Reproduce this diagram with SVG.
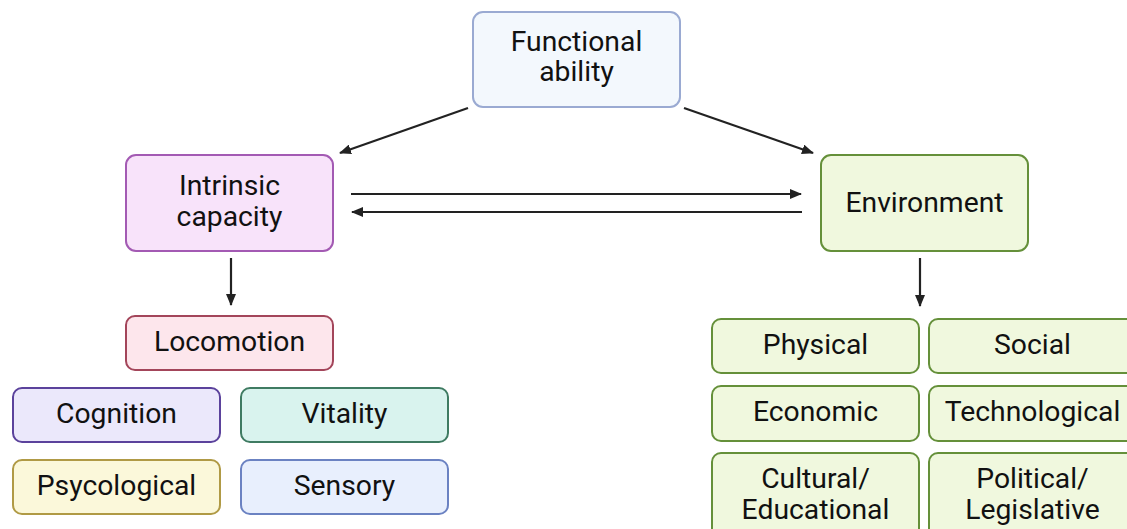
<svg xmlns="http://www.w3.org/2000/svg" width="1127" height="529" viewBox="0 0 1127 529">
<style>
text{font-family:Roboto,"Liberation Sans",sans-serif;font-size:28.3px;fill:#111;text-anchor:middle}
rect{stroke-width:2}
.c line{stroke:#222;stroke-width:2.2;fill:none}
.env rect{fill:#f0f8de;stroke:#65903a}
</style>
<defs>
<marker id="ah" viewBox="0 0 12 10" refX="11" refY="5" markerWidth="12" markerHeight="10" markerUnits="userSpaceOnUse" orient="auto">
<path d="M0,0 L12,5 L0,10 z" fill="#222"/>
</marker>
</defs>
<rect width="1127" height="529" fill="#fff"/>
<g id="functional">
<rect x="473" y="12" width="207" height="95" rx="10" fill="#f3f8fd" stroke="#9aaad2"/>
<text x="576.5" y="51">Functional</text>
<text x="576.5" y="81">ability</text>
</g>
<g id="intrinsic">
<rect x="126" y="155" width="207" height="96" rx="10" fill="#f8e3fa" stroke="#a35ab3"/>
<text x="229.5" y="195">Intrinsic</text>
<text x="229.5" y="226">capacity</text>
</g>
<g id="environment" class="env">
<rect x="821" y="155" width="207" height="96" rx="10"/>
<text x="924.5" y="212">Environment</text>
</g>
<g id="locomotion">
<rect x="126" y="316" width="207" height="54" rx="9" fill="#fde6ec" stroke="#a3455a"/>
<text x="229.5" y="351">Locomotion</text>
</g>
<g id="cognition">
<rect x="13" y="388" width="207" height="54" rx="9" fill="#ebe8fb" stroke="#5b429c"/>
<text x="116.5" y="423">Cognition</text>
</g>
<g id="vitality">
<rect x="241" y="388" width="207" height="54" rx="9" fill="#d9f3ee" stroke="#3f7b62"/>
<text x="344.5" y="423">Vitality</text>
</g>
<g id="psycological">
<rect x="13" y="460" width="207" height="54" rx="9" fill="#fbf8da" stroke="#b09a45"/>
<text x="116.5" y="495">Psycological</text>
</g>
<g id="sensory">
<rect x="241" y="460" width="207" height="54" rx="9" fill="#e8effd" stroke="#6b82c2"/>
<text x="344.5" y="495">Sensory</text>
</g>
<g id="physical" class="env">
<rect x="712" y="319" width="207" height="54" rx="9"/>
<text x="815.5" y="354">Physical</text>
</g>
<g id="social" class="env">
<rect x="929" y="319" width="207" height="54" rx="9"/>
<text x="1032.5" y="354">Social</text>
</g>
<g id="economic" class="env">
<rect x="712" y="386" width="207" height="55" rx="9"/>
<text x="815.5" y="421">Economic</text>
</g>
<g id="technological" class="env">
<rect x="929" y="386" width="207" height="55" rx="9"/>
<text x="1032.5" y="421">Technological</text>
</g>
<g id="cultural" class="env">
<rect x="712" y="453" width="207" height="95" rx="9"/>
<text x="815.5" y="488">Cultural/</text>
<text x="815.5" y="519">Educational</text>
</g>
<g id="political" class="env">
<rect x="929" y="453" width="207" height="95" rx="9"/>
<text x="1032.5" y="488">Political/</text>
<text x="1032.5" y="519">Legislative</text>
</g>
<g id="connectors" class="c">
<line x1="468" y1="108" x2="340" y2="153" marker-end="url(#ah)"/>
<line x1="684" y1="108" x2="813" y2="153" marker-end="url(#ah)"/>
<line x1="351" y1="194" x2="801" y2="194" marker-end="url(#ah)"/>
<line x1="802" y1="212" x2="352" y2="212" marker-end="url(#ah)"/>
<line x1="231" y1="258" x2="231" y2="305" marker-end="url(#ah)"/>
<line x1="920" y1="258" x2="920" y2="306" marker-end="url(#ah)"/>
</g>
</svg>
